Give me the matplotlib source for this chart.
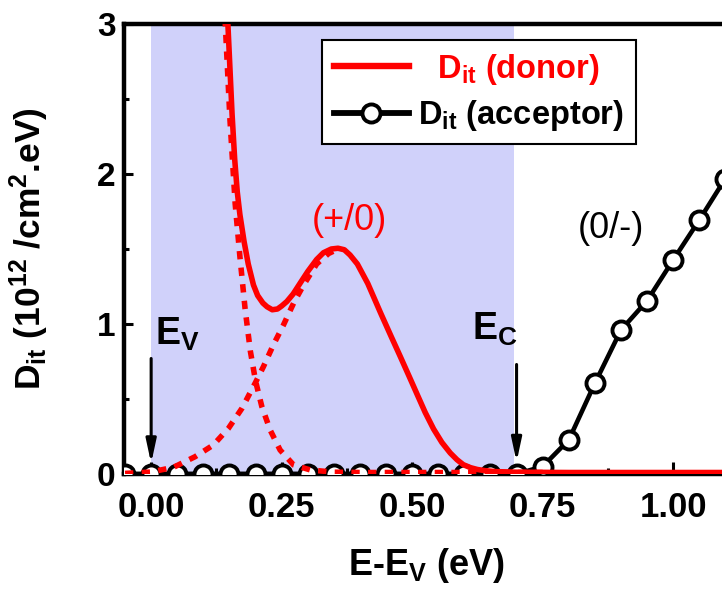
import matplotlib
matplotlib.use('Agg')
import matplotlib.pyplot as plt
from matplotlib.lines import Line2D
from matplotlib.ticker import FixedLocator

plt.rcParams['font.family'] = ['Liberation Sans', 'DejaVu Sans']
plt.rcParams['font.weight'] = 'bold'
plt.rcParams['mathtext.fontset'] = 'custom'
plt.rcParams['mathtext.rm'] = 'Liberation Sans:bold'
plt.rcParams['mathtext.bf'] = 'Liberation Sans:bold'
plt.rcParams['mathtext.it'] = 'Liberation Sans:bold'
plt.rcParams['mathtext.default'] = 'bf'

# ---------------- data ----------------
# total donor-like Dit (solid red)
donor_x = [0.145, 0.147, 0.151, 0.155, 0.160, 0.165, 0.170, 0.178, 0.186, 0.196,
           0.204, 0.214, 0.222, 0.232, 0.242, 0.250, 0.260, 0.272, 0.285, 0.300,
           0.317, 0.330, 0.345, 0.358, 0.370, 0.381, 0.395, 0.415, 0.440, 0.460,
           0.477, 0.495, 0.509, 0.525, 0.541, 0.557, 0.573, 0.586, 0.598, 0.612,
           0.625, 0.640, 0.660, 0.700, 0.800, 0.900, 1.000, 1.110]
donor_y = [3.10, 3.00, 2.70, 2.40, 2.10, 1.88, 1.73, 1.55, 1.40, 1.26,
           1.19, 1.14, 1.115, 1.095, 1.10, 1.12, 1.15, 1.20, 1.27, 1.35,
           1.43, 1.475, 1.50, 1.505, 1.495, 1.46, 1.40, 1.27, 1.07, 0.915,
           0.785, 0.645, 0.535, 0.41, 0.30, 0.21, 0.14, 0.095, 0.062, 0.042,
           0.030, 0.022, 0.016, 0.012, 0.010, 0.010, 0.010, 0.010]

# valence-band tail component (dotted red)
tail_x = [0.140, 0.142, 0.151, 0.161, 0.170, 0.180, 0.190, 0.200, 0.212, 0.228,
          0.247, 0.273, 0.305, 0.350, 0.400, 0.750]
tail_y = [3.15, 3.00, 2.36, 1.80, 1.45, 1.10, 0.82, 0.62, 0.45, 0.293,
          0.16, 0.06, 0.027, 0.012, 0.010, 0.010]

# (+/0) peak component (dotted red)
peak_x = [-0.050, 0.000, 0.043, 0.084, 0.119, 0.148, 0.174, 0.199, 0.215, 0.234,
          0.253, 0.273, 0.292, 0.317, 0.340, 0.358]
peak_y = [0.004, 0.013, 0.045, 0.115, 0.193, 0.304, 0.438, 0.604, 0.715, 0.86,
          0.99, 1.14, 1.26, 1.40, 1.47, 1.50]

# acceptor-like Dit (black, open circles)
acc_x = [-0.05, 0.00, 0.05, 0.10, 0.15, 0.20, 0.25, 0.30, 0.35, 0.40, 0.45,
         0.50, 0.55, 0.60, 0.65, 0.70, 0.75, 0.80, 0.85, 0.90, 0.95, 1.00,
         1.05, 1.10]
acc_y = [0.0, 0.0, 0.0, 0.0, 0.0, 0.0, 0.0, 0.0, 0.0, 0.0, 0.0,
         0.0, 0.0, 0.0, 0.0, 0.0, 0.05, 0.227, 0.605, 0.96, 1.155, 1.427,
         1.693, 1.97]

# band gap region and band edges
gap_start, gap_end = 0.0, 0.695
edge_x = [0.0, 0.70]
edge_top = [0.77, 0.73]
edge_tip = [0.07, 0.08]
edge_labels = [r'E$_V$', r'E$_C$']
edge_label_x = [0.008, 0.615]
edge_label_y = [0.86, 0.893]

xtick_vals = [0.0, 0.25, 0.50, 0.75, 1.00]
xtick_labels = ['0.00', '0.25', '0.50', '0.75', '1.00']
xminor_vals = [0.125, 0.375, 0.625, 0.875]
ytick_vals = [0, 1, 2, 3]
ytick_labels = ['0', '1', '2', '3']
yminor_vals = [0.5, 1.5, 2.5]

# ---------------- figure ----------------
W, H = 722, 590
fig = plt.figure(figsize=(W / 100, H / 100), dpi=100)
ax = fig.add_axes([124 / W, 116 / H, 604 / W, 450 / H])

ax.axvspan(gap_start, gap_end, color='#d0d1fa', lw=0, zorder=0)

red = '#ff0000'
ax.plot(acc_x, acc_y, color='black', lw=3.3, marker='o', ms=13,
        mfc='white', mec='black', mew=2.8, zorder=3)
ax.plot(tail_x, tail_y, color=red, lw=4.0, ls=(0, (1.5, 1.5)),
        dash_capstyle='butt', zorder=4)
ax.plot(peak_x, peak_y, color=red, lw=4.0, ls=(0, (1.5, 1.5)),
        dash_capstyle='butt', zorder=4)
ax.plot(donor_x, donor_y, color=red, lw=4.0, zorder=5)

for xe, yt, yb, lab, lx, ly in zip(edge_x, edge_top, edge_tip, edge_labels,
                                   edge_label_x, edge_label_y):
    ax.annotate('', xy=(xe, yb), xytext=(xe, yt),
                arrowprops=dict(arrowstyle='-|>,head_length=1.4,head_width=0.3',
                                color='black', lw=2.2, shrinkA=0, shrinkB=0),
                zorder=6)
    ax.text(lx, ly, lab, fontsize=27, ha='left', va='baseline', zorder=6)

ax.text(0.38, 1.69, '(+/0)', color=red, fontsize=26, fontweight='normal',
        ha='center', va='center', zorder=6)
ax.text(0.88, 1.64, '(0/-)', color='black', fontsize=26, fontweight='normal',
        ha='center', va='center', zorder=6)

ax.set_xlim(-0.052, 1.105)
ax.set_ylim(0, 3)
ax.set_xticks(xtick_vals)
ax.set_xticklabels(xtick_labels, fontsize=25)
ax.xaxis.set_minor_locator(FixedLocator(xminor_vals))
ax.set_yticks(ytick_vals)
ax.set_yticklabels(ytick_labels, fontsize=24)
ax.yaxis.set_minor_locator(FixedLocator(yminor_vals))
ax.tick_params(axis='x', which='major', direction='in', length=9, width=2.2, pad=12)
ax.tick_params(axis='x', which='minor', direction='in', length=4.5, width=2.2)
ax.tick_params(axis='y', which='major', direction='in', length=6.5, width=2.2, pad=6)
ax.tick_params(axis='y', which='minor', direction='in', length=3.5, width=2.2)
for s in ax.spines.values():
    s.set_linewidth(3.2)

fig.text(426 / W, 15 / H, r'E-E$_V$ (eV)', fontsize=26, ha='center', va='baseline')
fig.text(41 / W, 1 - 249 / H, r'D$_{it}$ (10$^{12}$ /cm$^2$.eV)', fontsize=25.5,
         rotation=90, rotation_mode='anchor', ha='center', va='baseline')

handles = [Line2D([], [], color=red, lw=4.6),
           Line2D([], [], color='black', lw=4.2, marker='o', ms=13,
                  mfc='white', mec='black', mew=2.8)]
labels = [r'$\ \ $D$_{it}$ (donor)', r'D$_{it}$ (acceptor)']
leg = ax.legend(handles, labels, loc='upper left', bbox_to_anchor=(0.328, 0.964),
                fontsize=23.5, frameon=True, fancybox=False, framealpha=1,
                edgecolor='black', borderpad=0.35, labelspacing=0.35,
                handlelength=2.3, handletextpad=0.3, borderaxespad=0,
                numpoints=1)
leg.get_frame().set_linewidth(1.5)
leg.get_texts()[0].set_color(red)
leg.set_zorder(7)

fig.savefig('out.png', dpi=100)
